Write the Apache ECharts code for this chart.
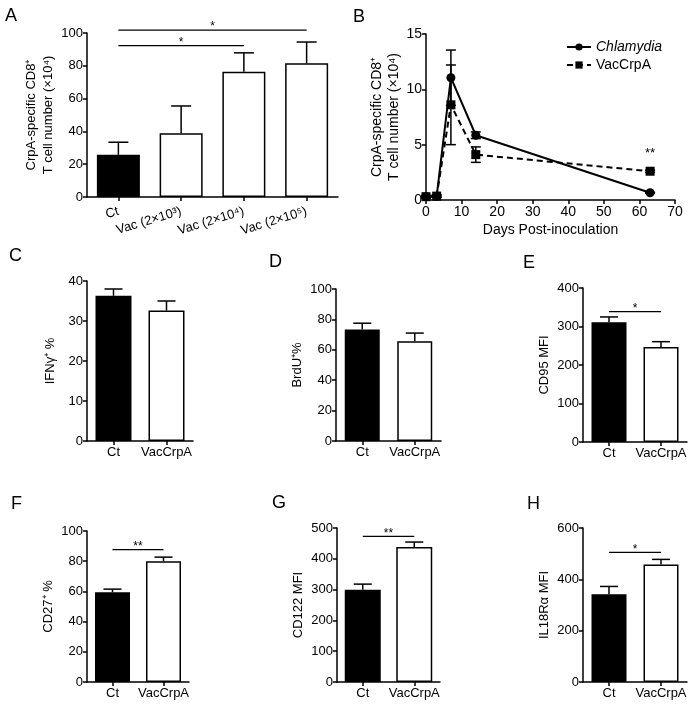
<!DOCTYPE html>
<html><head><meta charset="utf-8">
<script src="https://cdn.jsdelivr.net/npm/echarts@6/dist/echarts.min.js"></script>
<style>html,body{margin:0;padding:0;background:#fff}#c{width:692px;height:707px}</style>
</head><body><div id="c"></div>
<script>
const FONT = "'Liberation Sans', Arial, Helvetica, sans-serif";

// ---- Panel A ----
const catsA = ['Ct', 'Vac (2×10³)', 'Vac (2×10⁴)', 'Vac (2×10⁵)'];
const meanA = [25.7, 38.8, 76.4, 81.5];
const errA = [7.7, 16.7, 11.5, 13.0];
const sigA = [[0, 2, 92.3, '*'], [0, 3, 101.8, '*']];

// ---- Panel B ----
const daysB = [0, 3, 7, 14, 63];
const chlamB = [0.3, 0.35, 11.05, 5.85, 0.65];
const chlamErrB = [0.1, 0.1, 2.5, 0.3, 0.05];
const vacB = [0.3, 0.35, 8.6, 4.1, 2.6];
const vacErrB = [0.1, 0.1, 3.6, 0.7, 0.1];
const sigB = [[63, 3.6, '**']];

// ---- Panels C-H ----
const cats2 = ['Ct', 'VacCrpA'];
const ifnMean = [36.3, 32.6];   const ifnErr = [1.7, 2.4];
const brduMean = [73.4, 65.7];  const brduErr = [4.1, 5.3];
const cd95Mean = [310.8, 246.8]; const cd95Err = [14, 13.8];
const sigE = [[0, 1, 338.7, '*']];
const cd27Mean = [59.5, 79.9];  const cd27Err = [2.0, 2.8];
const sigF = [[0, 1, 87.6, '**']];
const cd122Mean = [299.3, 438]; const cd122Err = [18.5, 16.4];
const sigG = [[0, 1, 472.7, '**']];
const il18Mean = [342.3, 458];  const il18Err = [30, 19.7];
const sigH = [[0, 1, 504.7, '*']];

const grids = [
  {left: 87, top: 33, width: 251, height: 164},   // A
  {left: 426, top: 34, width: 249, height: 166},  // B
  {left: 87, top: 281, width: 106, height: 160},  // C
  {left: 336, top: 289, width: 105, height: 152}, // D
  {left: 583, top: 288, width: 104, height: 154}, // E
  {left: 87, top: 531, width: 102, height: 151},  // F
  {left: 337, top: 528, width: 103, height: 154}, // G
  {left: 583, top: 528, width: 104, height: 154}  // H
];

const axLine = {show: true, lineStyle: {color: '#000', width: 1.5}};
const axTick = {show: true, length: 4, lineStyle: {color: '#000', width: 1.5}};

function yAxis(gi, max, interval, name, gap, fs) {
  return {
    type: 'value', gridIndex: gi, min: 0, max: max, interval: interval,
    axisLine: axLine, axisTick: axTick, splitLine: {show: false},
    axisLabel: {color: '#000', fontSize: fs || 13, fontFamily: FONT, margin: 4},
    name: name, nameLocation: 'middle', nameGap: gap, nameRotate: 90,
    nameTextStyle: {color: '#000', fontSize: fs || 13, fontFamily: FONT, lineHeight: 17}
  };
}
function xCat(gi, cats, rotate, margin) {
  return {
    type: 'category', gridIndex: gi, data: cats,
    axisLine: axLine, axisTick: Object.assign({alignWithLabel: true}, axTick),
    axisLabel: {color: '#000', fontSize: 13, fontFamily: FONT, margin: margin || 5, rotate: rotate || 0, interval: 0}
  };
}
function barSeries(gi, means, bw) {
  return {
    type: 'bar', xAxisIndex: gi, yAxisIndex: gi, barWidth: bw, silent: true, z: 2,
    data: means.map((v, j) => ({
      value: v,
      itemStyle: j === 0 ? {color: '#000', borderColor: '#000', borderWidth: 1.5}
                         : {color: '#fff', borderColor: '#000', borderWidth: 1.5}
    }))
  };
}
function errSeries(gi, means, errs, half) {
  return {
    type: 'custom', xAxisIndex: gi, yAxisIndex: gi, silent: true, z: 3,
    data: means.map((m, j) => [j, m, m + errs[j]]),
    encode: {x: 0, y: [1, 2]},
    renderItem: function (params, api) {
      const p0 = api.coord([api.value(0), api.value(1)]);
      const p1 = api.coord([api.value(0), api.value(2)]);
      const st = {stroke: '#000', lineWidth: 1.5};
      return {type: 'group', children: [
        {type: 'line', shape: {x1: p0[0], y1: p0[1], x2: p1[0], y2: p1[1]}, style: st},
        {type: 'line', shape: {x1: p1[0] - half, y1: p1[1], x2: p1[0] + half, y2: p1[1]}, style: st}
      ]};
    }
  };
}
function sigSeries(gi, sig) {
  return {
    type: 'custom', xAxisIndex: gi, yAxisIndex: gi, silent: true, z: 4, clip: false,
    data: sig.map(s => [s[0], s[1], s[2], s[3]]),
    encode: {x: 0, y: 2},
    renderItem: function (params, api) {
      const a = api.coord([api.value(0), api.value(2)]);
      const b = api.coord([api.value(1), api.value(2)]);
      return {type: 'group', children: [
        {type: 'line', shape: {x1: a[0], y1: a[1], x2: b[0], y2: b[1]}, style: {stroke: '#000', lineWidth: 1.2}},
        {type: 'text', x: (a[0] + b[0]) / 2, y: a[1] + 3, style: {text: sig[params.dataIndex][3], fill: '#000', font: '12px ' + FONT, align: 'center', verticalAlign: 'bottom'}}
      ]};
    }
  };
}
function errSeriesXY(gi, xs, means, errs, half) {
  return {
    type: 'custom', xAxisIndex: gi, yAxisIndex: gi, silent: true, z: 3,
    data: xs.map((x, j) => [x, means[j] - errs[j], means[j] + errs[j]]),
    encode: {x: 0, y: [1, 2]},
    renderItem: function (params, api) {
      const lo = api.coord([api.value(0), api.value(1)]);
      const hi = api.coord([api.value(0), api.value(2)]);
      const st = {stroke: '#000', lineWidth: 1.5};
      return {type: 'group', children: [
        {type: 'line', shape: {x1: lo[0], y1: lo[1], x2: hi[0], y2: hi[1]}, style: st},
        {type: 'line', shape: {x1: hi[0] - half, y1: hi[1], x2: hi[0] + half, y2: hi[1]}, style: st},
        {type: 'line', shape: {x1: lo[0] - half, y1: lo[1], x2: lo[0] + half, y2: lo[1]}, style: st}
      ]};
    }
  };
}

const letters = [
  ['A', 5, 18], ['B', 353, 19], ['C', 9, 258], ['D', 269, 264],
  ['E', 523, 265], ['F', 11, 506], ['G', 272, 505], ['H', 527, 506]
];

const yName2 = 'CrpA-specific CD8⁺\nT cell number (×10⁴)';

const option = {
  animation: false,
  backgroundColor: '#fff',
  textStyle: {fontFamily: FONT, color: '#000'},
  grid: grids,
  legend: {
    show: true, orient: 'vertical', left: 561, top: 35, itemWidth: 24, itemHeight: 9, itemGap: 4,
    data: ['Chlamydia', 'VacCrpA'],
    textStyle: {fontSize: 14, fontFamily: FONT, color: '#000', rich: {i: {fontStyle: 'italic', fontSize: 14, fontFamily: FONT}}},
    formatter: n => n === 'Chlamydia' ? '{i|Chlamydia}' : n
  },
  graphic: letters.map(l => ({type: 'text', left: l[1], top: l[2] - 11, style: {text: l[0], font: '18px ' + FONT, fill: '#000'}})),
  xAxis: [
    xCat(0, catsA, 17, 14),
    {type: 'value', gridIndex: 1, min: 0, max: 70, interval: 10,
     axisLine: axLine, axisTick: axTick, splitLine: {show: false},
     axisLabel: {color: '#000', fontSize: 14, fontFamily: FONT, margin: 5},
     name: 'Days Post-inoculation', nameLocation: 'middle', nameGap: 23,
     nameTextStyle: {color: '#000', fontSize: 14, fontFamily: FONT}},
    xCat(2, cats2), xCat(3, cats2), xCat(4, cats2), xCat(5, cats2), xCat(6, cats2), xCat(7, cats2)
  ],
  yAxis: [
    yAxis(0, 100, 20, yName2, 27, 13),
    yAxis(1, 15, 5, yName2, 22, 14),
    yAxis(2, 40, 10, 'IFNγ⁺ %', 28),
    yAxis(3, 100, 20, 'BrdU⁺%', 29),
    yAxis(4, 400, 100, 'CD95 MFI', 29),
    yAxis(5, 100, 20, 'CD27⁺ %', 28),
    yAxis(6, 500, 100, 'CD122 MFI', 29),
    yAxis(7, 600, 200, 'IL18Rα MFI', 29)
  ],
  series: [
    barSeries(0, meanA, 43), errSeries(0, meanA, errA, 10), sigSeries(0, sigA),
    {name: 'Chlamydia', type: 'line', xAxisIndex: 1, yAxisIndex: 1, z: 5,
     data: daysB.map((d, j) => [d, chlamB[j]]), symbol: 'circle', symbolSize: 9,
     itemStyle: {color: '#000'}, lineStyle: {color: '#000', width: 2}},
    {name: 'VacCrpA', type: 'line', xAxisIndex: 1, yAxisIndex: 1, z: 5,
     data: daysB.map((d, j) => [d, vacB[j]]), symbol: 'rect', symbolSize: 9,
     itemStyle: {color: '#000'}, lineStyle: {color: '#000', width: 2, type: [6, 4]}},
    errSeriesXY(1, daysB, chlamB, chlamErrB, 5),
    errSeriesXY(1, daysB, vacB, vacErrB, 5),
    {type: 'custom', xAxisIndex: 1, yAxisIndex: 1, silent: true, z: 6,
     data: sigB.map(s => [s[0], s[1]]), encode: {x: 0, y: 1},
     renderItem: function (params, api) {
       const p = api.coord([api.value(0), api.value(1)]);
       return {type: 'text', x: p[0], y: p[1], style: {text: sigB[params.dataIndex][2], fill: '#000', font: '13px ' + FONT, align: 'center', verticalAlign: 'bottom'}};
     }},
    barSeries(2, ifnMean, 36), errSeries(2, ifnMean, ifnErr, 9),
    barSeries(3, brduMean, 35), errSeries(3, brduMean, brduErr, 9),
    barSeries(4, cd95Mean, 35), errSeries(4, cd95Mean, cd95Err, 9), sigSeries(4, sigE),
    barSeries(5, cd27Mean, 35), errSeries(5, cd27Mean, cd27Err, 9), sigSeries(5, sigF),
    barSeries(6, cd122Mean, 36), errSeries(6, cd122Mean, cd122Err, 9), sigSeries(6, sigG),
    barSeries(7, il18Mean, 35), errSeries(7, il18Mean, il18Err, 9), sigSeries(7, sigH)
  ]
};

const chart = echarts.init(document.getElementById('c'), null, {renderer: 'canvas'});
chart.setOption(option);
</script>
</body></html>
